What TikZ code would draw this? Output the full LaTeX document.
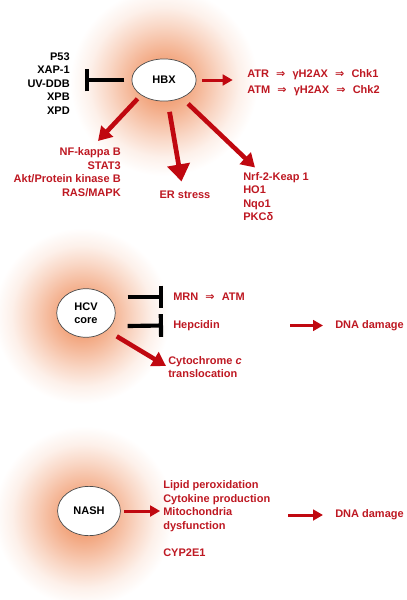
\documentclass[tikz,border=0pt]{standalone}
\usepackage{fontspec}
\setmainfont{Liberation Sans}
\newfontfamily\symfont{DejaVu Sans}
\usetikzlibrary{arrows.meta,shapes.geometric}
\usetikzlibrary{calc,positioning}

\definecolor{arrowred}{RGB}{192,8,16}
\definecolor{textred}{RGB}{190,24,34}
\definecolor{glowc}{RGB}{240,150,104}

% the circle edge is at 25bp
\pgfdeclareradialshading{glow}{\pgfpoint{0bp}{0bp}}{%
  color(0bp)=(glowc); color(6bp)=(glowc!85!white); color(9.5bp)=(glowc!67!white);
  color(15bp)=(glowc!38!white); color(20bp)=(glowc!14!white);
  color(25bp)=(white); color(50bp)=(white)}

\newcommand{\lblfont}{\fontsize{7.7}{9.4}\selectfont\bfseries}
\newcommand{\imp}{\hspace{5pt}{\symfont ⇒}\hspace{5pt}}

\tikzset{
    agent/.style={ellipse, draw=black!70, fill=white, line width=0.5pt,
        font=\lblfont, align=center, inner sep=0pt},
    effect/.style={text=textred, font=\lblfont, inner sep=0pt},
    target/.style={text=black, font=\lblfont, inner sep=0pt, align=right},
    smallarrow/.style={draw=arrowred, line width=2.1pt,
        -{Triangle[length=7pt,width=7.5pt]}},
    bigarrow/.style={draw=arrowred, line width=3.2pt,
        -{Triangle[length=9.5pt,width=11pt]}},
    hugearrow/.style={draw=arrowred, line width=3.3pt,
        -{Triangle[length=12pt,width=15.5pt]}},
    inhibit/.style={draw=black, line width=2.9pt, -{Bar[width=16pt]}},
}

\begin{document}
\begin{tikzpicture}[x=0.7pt,y=-0.7pt]
\useasboundingbox (0,0) rectangle (406,600);

% glows
\begin{scope}
\clip (0,0) rectangle (406,600);
\shade[shading=glow] (164,82) circle (94);
\shade[shading=glow] (82,316) circle (88);
\shade[shading=glow] (84,516) circle (90);
\end{scope}

% HBX
\node[agent, minimum width=45pt, minimum height=29.5pt] (hbx) at (164,80) {HBX};
\node[target, anchor=east] (repair) at (70,83.5) {P53\\XAP-1\\UV-DDB\\XPB\\XPD};
\node[effect, anchor=west] (atr) at (247,75) {ATR\imp γH2AX\imp Chk1};
\node[effect, anchor=west] (atm) at (247,91) {ATM\imp γH2AX\imp Chk2};
\node[effect, anchor=east, align=right] (nfkb) at (121,172)
    {NF-kappa B\\STAT3\\Akt/Protein kinase B\\RAS/MAPK};
\node[effect] (er) at (185,195) {ER stress};
\node[effect, anchor=west, align=left] (nrf) at (243,196.5)
    {Nrf-2-Keap 1\\HO1\\Nqo1\\PKCδ};

\coordinate (inhend) at (85,80);
\coordinate (nfkbtip) at (98,141);
\coordinate (ertip) at (181.5,181.5);
\coordinate (nrftip) at (255,167.5);

\draw[inhibit, shorten <=5pt] (hbx.west) -- (hbx.west -| inhend);
\draw[smallarrow, shorten <=4pt, shorten >=10pt] (hbx.east) -- (hbx.east -| atr.west);
\draw[bigarrow, shorten <=3.5pt] (hbx.south west) -- (nfkbtip);
\draw[hugearrow, shorten <=7.5pt] (hbx.-80) -- (ertip);
\draw[bigarrow, shorten <=6pt] (hbx.-45) -- (nrftip);

% HCV core
\node[agent, minimum width=41pt, minimum height=34pt] (hcv) at (86,313) {HCV\\core};
\node[effect, anchor=west] (mrn) at (173,297) {MRN\imp ATM};
\node[effect, anchor=west] (hep) at (173,325.5) {Hepcidin};
\node[effect, anchor=west] (dnaa) at (335,325.5) {DNA damage};
\node[effect, anchor=west, align=left, font=\fontsize{7.7}{8.6}\selectfont\bfseries] (cyt)
    at (168,367) {Cytochrome \textit{c}\\translocation};

\coordinate (cyttip) at (166,366);

\draw[inhibit] ($(hcv.east)+(12,-16)$) -- ($(mrn.west)+(-10,0)$);
\draw[inhibit] ($(hcv.east)+(12,13)$) -- ($(hep.west)+(-10,0)$);
\draw[smallarrow, shorten <=49pt, shorten >=8.4pt] (hep) -- (dnaa);
\draw[bigarrow, shorten <=8pt] (hcv.south east) -- (cyttip);

% NASH
\node[agent, minimum width=44pt, minimum height=34.5pt] (nash) at (89,511) {NASH};
\node[effect, anchor=west, align=left] (nashfx) at (163,518.5)
    {Lipid peroxidation\\Cytokine production\\Mitochondria\\dysfunction\\[9.4pt]CYP2E1};
\node[effect, anchor=west] (dnab) at (335,515) {DNA damage};

\draw[smallarrow, shorten <=2.5pt, shorten >=2pt] (nash) -- (nash -| nashfx.west);
\draw[smallarrow, shorten <=12.5pt, shorten >=8.4pt] (nashfx.east |- dnab) -- (dnab);
\end{tikzpicture}
\end{document}
